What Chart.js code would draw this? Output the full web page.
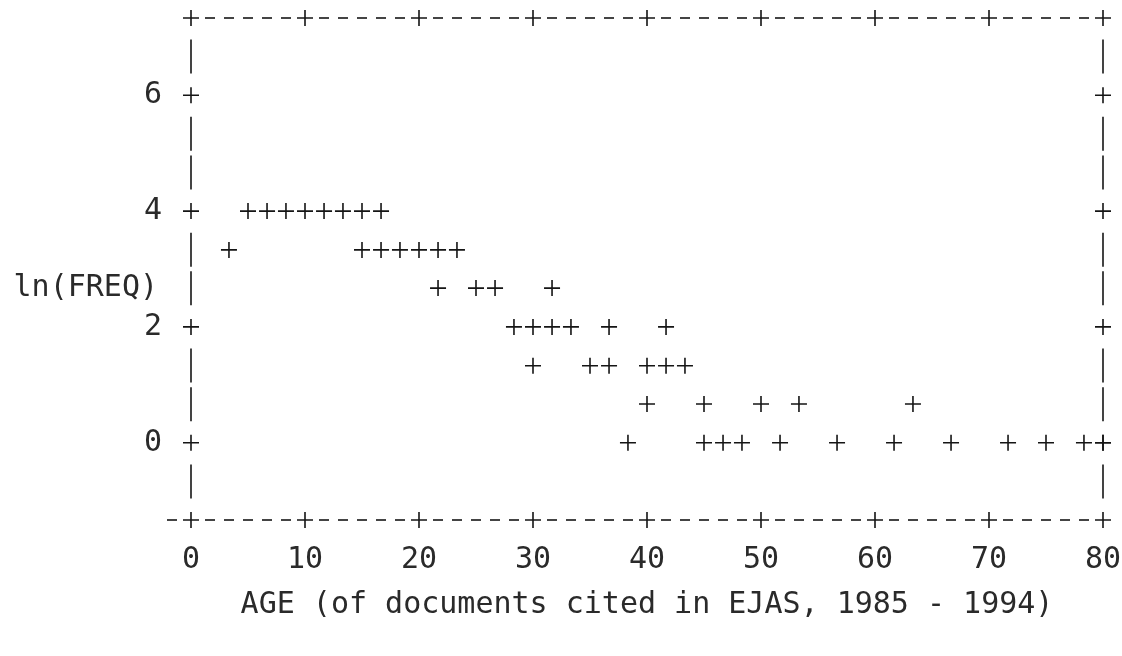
<!DOCTYPE html>
<html lang="en">

<head>
    <meta charset="UTF-8">
    <title>ln(FREQ) vs AGE</title>
    <script src="https://cdn.jsdelivr.net/npm/chart.js"></script>
    <style>
        body {
            margin: 0;
            background: #fff;
        }

        #chart-container {
            width: 1122px;
            height: 656px;
        }
    </style>
</head>

<body>
    <div id="chart-container">
        <canvas id="ageChart"></canvas>
    </div>

    <script>
        // values (one entry per "+")
        const ages = [3.33, 5, 6.67, 8.33, 10, 11.67, 13.33, 15, 15, 16.67, 16.67, 18.33, 20, 21.67, 21.67, 23.33,
            25, 26.67, 28.33, 30, 30, 31.67, 31.67, 33.33, 35, 36.67, 36.67, 38.33, 40, 40, 41.67, 41.67, 43.33,
            45, 45, 46.67, 48.33, 50, 51.67, 53.33, 56.67, 61.67, 63.33, 66.67, 71.67, 75, 78.33, 80];
        const lnFreq = [3.33, 4, 4, 4, 4, 4, 4, 4, 3.33, 4, 3.33, 3.33, 3.33, 3.33, 2.67, 3.33,
            2.67, 2.67, 2, 2, 1.33, 2.67, 2, 2, 1.33, 2, 1.33, 0, 1.33, 0.67, 2, 1.33, 1.33,
            0.67, 0, 0, 0, 0.67, 0, 0.67, 0, 0, 0.67, 0, 0, 0, 0, 0];

        const xTicks = [0, 10, 20, 30, 40, 50, 60, 70, 80];
        const yTicks = [0, 2, 4, 6];
        const xTitle = 'AGE (of documents cited in EJAS, 1985 - 1994)';
        const yTitle = 'ln(FREQ)';

        const xMin = 0, xMax = 80;
        const yMin = -4 / 3, yMax = 22 / 3;
        const colStep = 10 / 6;   // 6 printer columns per 10 years
        const rowStep = 2 / 3;    // 3 printer rows per 2 units

        const ink = '#151515';
        const textInk = '#2a2a2a';
        const monoFont = "'DejaVu Sans Mono', 'Liberation Mono', monospace";

        // draws the dashed "+-----+" frame like the line printer did
        const asciiFrame = {
            id: 'asciiFrame',
            afterDraw(chart) {
                const ctx = chart.ctx;
                const xs = chart.scales.x;
                const ys = chart.scales.y;
                const px = v => xs.getPixelForValue(v);
                const py = v => ys.getPixelForValue(v);
                const near = (a, b) => Math.abs(a - b) < 1e-6;

                ctx.save();
                ctx.strokeStyle = ink;
                ctx.lineWidth = 1.6;

                const plus = (x, y) => {
                    ctx.beginPath();
                    ctx.moveTo(x - 8, y); ctx.lineTo(x + 8, y);
                    ctx.moveTo(x, y - 8); ctx.lineTo(x, y + 8);
                    ctx.stroke();
                };
                const dash = (x, y) => {
                    ctx.beginPath();
                    ctx.moveTo(x - 5, y); ctx.lineTo(x + 5, y);
                    ctx.stroke();
                };
                const bar = (x, y) => {
                    ctx.beginPath();
                    ctx.moveTo(x, y - 17); ctx.lineTo(x, y + 17);
                    ctx.stroke();
                };

                const nCols = Math.round((xMax - xMin) / colStep);
                // top and bottom borders
                for (let c = 0; c <= nCols; c++) {
                    const v = xMin + c * colStep;
                    const isTick = xTicks.some(t => near(t, v));
                    [yMax, yMin].forEach(yv => {
                        if (isTick) plus(px(v), py(yv));
                        else dash(px(v), py(yv));
                    });
                }
                dash(px(xMin - colStep), py(yMin));

                // left and right borders
                const nRows = Math.round((yMax - yMin) / rowStep);
                for (let r = 1; r < nRows; r++) {
                    const v = yMin + r * rowStep;
                    const isTick = yTicks.some(t => near(t, v));
                    [xMin, xMax].forEach(xv => {
                        if (isTick) plus(px(xv), py(v));
                        else bar(px(xv), py(v));
                    });
                }

                // horizontal y label
                ctx.fillStyle = textInk;
                ctx.font = '30px ' + monoFont;
                ctx.textAlign = 'right';
                ctx.textBaseline = 'middle';
                ctx.fillText(yTitle, 158, 288);
                ctx.restore();
            }
        };

        const ctxAge = document.getElementById('ageChart').getContext('2d');
        new Chart(ctxAge, {
            type: 'scatter',
            data: {
                datasets: [{
                    data: ages.map((a, i) => ({ x: a, y: lnFreq[i] })),
                    pointStyle: 'cross',
                    pointRadius: 8,
                    pointHoverRadius: 8,
                    borderWidth: 1.6,
                    borderColor: ink,
                    backgroundColor: ink,
                    showLine: false,
                    clip: false
                }]
            },
            options: {
                responsive: true,
                maintainAspectRatio: false,
                animation: false,
                layout: {
                    padding: { top: 18, right: 19, left: 0, bottom: 0 }
                },
                plugins: {
                    legend: { display: false },
                    tooltip: { enabled: false }
                },
                scales: {
                    x: {
                        type: 'linear',
                        min: xMin,
                        max: xMax,
                        grid: { display: false, drawTicks: false },
                        border: { display: false },
                        afterBuildTicks: scale => {
                            scale.ticks = xTicks.map(v => ({ value: v }));
                        },
                        afterFit: scale => {
                            scale.height = 136;
                            scale.paddingLeft = 0;
                            scale.paddingRight = 0;
                        },
                        ticks: {
                            color: textInk,
                            padding: 22,
                            maxRotation: 0,
                            font: { family: monoFont, size: 30 }
                        },
                        title: {
                            display: true,
                            text: xTitle,
                            color: textInk,
                            padding: { top: 0, bottom: 33 },
                            font: { family: monoFont, size: 30 }
                        }
                    },
                    y: {
                        type: 'linear',
                        min: yMin,
                        max: yMax,
                        grid: { display: false, drawTicks: false },
                        border: { display: false },
                        afterBuildTicks: scale => {
                            scale.ticks = yTicks.map(v => ({ value: v }));
                        },
                        afterFit: scale => {
                            scale.width = 191;
                            scale.paddingTop = 0;
                            scale.paddingBottom = 0;
                        },
                        ticks: {
                            color: textInk,
                            padding: 29,
                            font: { family: monoFont, size: 30 }
                        }
                    }
                }
            },
            plugins: [asciiFrame]
        });
    </script>
</body>

</html>
